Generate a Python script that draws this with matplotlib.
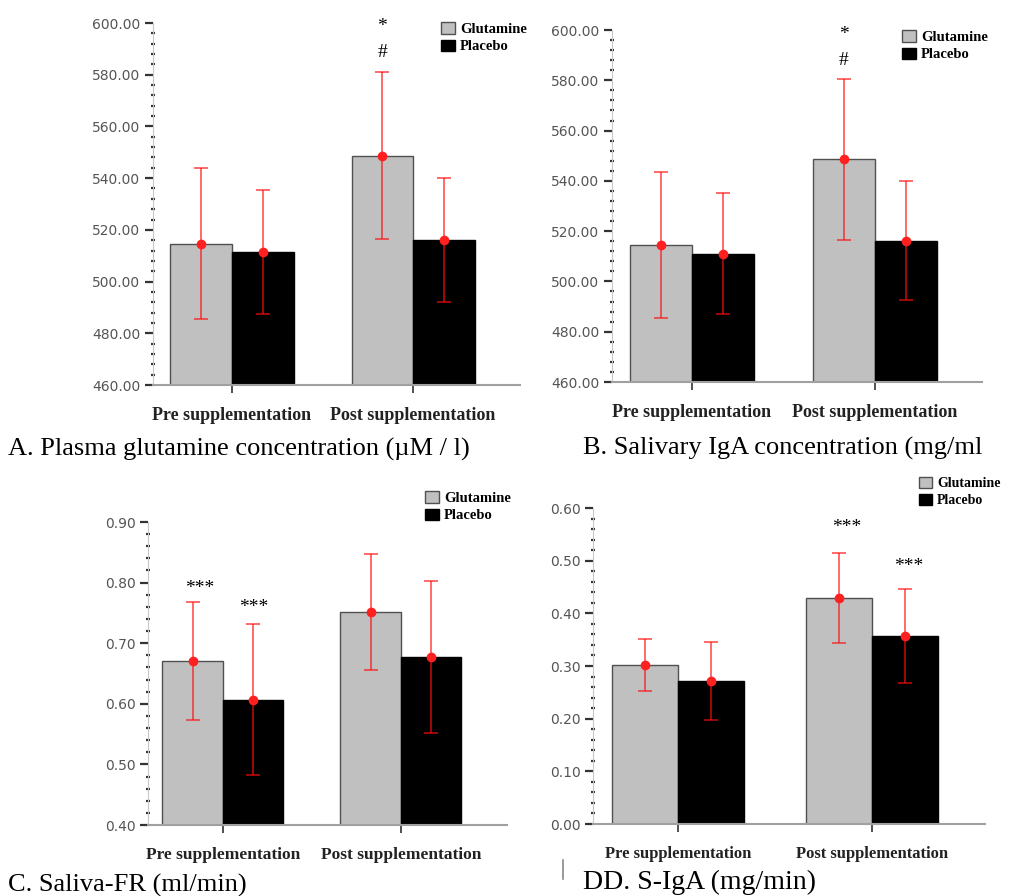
import matplotlib
matplotlib.use("Agg")
import matplotlib.pyplot as plt
from matplotlib.patches import Patch
from matplotlib.ticker import MultipleLocator, FormatStrFormatter

# ---------------- data ----------------
categories = ["Pre supplementation", "Post supplementation"]
series = ["Glutamine", "Placebo"]

# A. Plasma glutamine concentration
A_glu_mean = [514.7, 548.7]
A_glu_sd = [29.1, 32.4]
A_pla_mean = [511.3, 516.1]
A_pla_sd = [24.0, 24.0]

# B. Salivary IgA concentration
B_glu_mean = [514.4, 548.6]
B_glu_sd = [29.0, 32.1]
B_pla_mean = [511.0, 516.2]
B_pla_sd = [24.0, 23.6]

# C. Saliva flow rate
C_glu_mean = [0.671, 0.751]
C_glu_sd = [0.097, 0.096]
C_pla_mean = [0.607, 0.677]
C_pla_sd = [0.125, 0.126]

# D. S-IgA secretion rate
D_glu_mean = [0.302, 0.429]
D_glu_sd = [0.050, 0.085]
D_pla_mean = [0.272, 0.357]
D_pla_sd = [0.074, 0.090]

captions = ["A. Plasma glutamine concentration (\u00b5M / l)",
            "B. Salivary IgA concentration (mg/ml",
            "C. Saliva-FR (ml/min)",
            "DD. S-IgA (mg/min)"]

# ---------------- layout ----------------
W, H = 1011, 896
fig = plt.figure(figsize=(W / 100, H / 100), dpi=100)
fig.patch.set_facecolor("white")

SERIF = ["Liberation Serif", "DejaVu Serif"]


def px_axes(x0, y0, x1, y1):
    return fig.add_axes([x0 / W, 1 - y1 / H, (x1 - x0) / W, (y1 - y0) / H])


def draw_panel(rect, ylim, major, fmt, glu_m, glu_s, pla_m, pla_s, xlim,
               tick_fs, xlab_fs, leg_xy, leg_fs):
    ax = px_axes(*rect)
    w = 0.34
    xs = list(range(len(categories)))
    xg = [x - w / 2 for x in xs]
    xp = [x + w / 2 for x in xs]
    ax.bar(xg, glu_m, width=w, color="#c0c0c0", edgecolor="#505050",
           linewidth=1.0, zorder=2)
    ax.bar(xp, pla_m, width=w, color="black", edgecolor="black",
           linewidth=1.0, zorder=2)
    for xx, m, s in ((xg, glu_m, glu_s), (xp, pla_m, pla_s)):
        ax.errorbar(xx, m, yerr=s, fmt="none", ecolor=(1, 0.05, 0.05, 0.72),
                    elinewidth=1.2, capsize=4.8, capthick=1.2, zorder=3)
        ax.plot(xx, m, "o", color="#ff2020", markersize=6, zorder=4)
    ax.set_ylim(*ylim)
    ax.set_xlim(*xlim)
    ax.yaxis.set_major_locator(MultipleLocator(major))
    ax.yaxis.set_minor_locator(MultipleLocator(major / 5))
    ax.yaxis.set_major_formatter(FormatStrFormatter(fmt))
    for sp in ("top", "right"):
        ax.spines[sp].set_visible(False)
    ax.spines["left"].set_color("#c8c8c8")
    ax.spines["left"].set_linewidth(0.8)
    ax.spines["bottom"].set_color("#a0a0a0")
    ax.spines["bottom"].set_linewidth(1.5)
    ax.tick_params(axis="y", which="major", length=6, width=1.6,
                   color="#333333", labelcolor="#555555",
                   labelsize=tick_fs, pad=3)
    ax.tick_params(axis="y", which="minor", length=2.5, width=1.6,
                   color="#333333", direction="inout")
    ax.set_xticks(xs)
    ax.set_xticklabels(categories, fontfamily=SERIF, fontweight="bold",
                       fontsize=xlab_fs, color="#222222")
    ax.tick_params(axis="x", length=6, width=1.2, color="#333333", pad=10)
    handles = [Patch(facecolor="#c0c0c0", edgecolor="#505050"),
               Patch(facecolor="black", edgecolor="black")]
    ax.legend(handles, series, loc="upper left",
              bbox_to_anchor=(leg_xy[0] / W, 1 - leg_xy[1] / H),
              bbox_transform=fig.transFigure, frameon=False,
              borderpad=0, borderaxespad=0, handlelength=0.95,
              handleheight=0.85, handletextpad=0.35, labelspacing=0.25,
              prop={"family": SERIF, "weight": "bold", "size": leg_fs})
    return ax, xg, xp


axA, xgA, xpA = draw_panel((153, 23, 520, 385), (460, 600), 20, "%.2f",
                           A_glu_mean, A_glu_sd, A_pla_mean, A_pla_sd,
                           (-0.436, 1.59), 10, 13, (441, 22), 10.5)
axB, xgB, xpB = draw_panel((612, 30, 982, 382), (460, 600), 20, "%.2f",
                           B_glu_mean, B_glu_sd, B_pla_mean, B_pla_sd,
                           (-0.437, 1.585), 10, 13, (902, 30), 10.5)
axC, xgC, xpC = draw_panel((148, 522, 507, 825), (0.40, 0.90), 0.10, "%.2f",
                           C_glu_mean, C_glu_sd, C_pla_mean, C_pla_sd,
                           (-0.421, 1.596), 10, 12.5, (425, 491), 10.5)
axD, xgD, xpD = draw_panel((593, 508, 985, 824), (0.0, 0.60), 0.10, "%.2f",
                           D_glu_mean, D_glu_sd, D_pla_mean, D_pla_sd,
                           (-0.438, 1.582), 10, 12, (919, 477), 10)

# significance marks
ann = dict(fontfamily=SERIF, fontsize=14, ha="center", va="center",
           color="black", clip_on=False)
axA.text(xgA[1], 598.5, "*", **ann)
axA.text(xgA[1], 588.4, "#", **ann)
axB.text(xgB[1], 598.4, "*", **ann)
axB.text(xgB[1], 587.7, "#", **ann)
axC.text(xgC[0] + 0.04, 0.790, "***", **ann)
axC.text(xpC[0], 0.759, "***", **ann)
axD.text(xgD[1] + 0.04, 0.563, "***", **ann)
axD.text(xpD[1] + 0.02, 0.488, "***", **ann)

# captions
cap = dict(fontfamily=SERIF, fontsize=19, color="black", va="baseline")
fig.text(8 / W, 1 - 455.5 / H, captions[0], **cap)
fig.text(583 / W, 1 - 455 / H, captions[1], **cap)
fig.text(8 / W, 1 - 892 / H, captions[2], **cap)
fig.text(583 / W, 1 - 889 / H, captions[3],
         **{**cap, "fontsize": 20})
fig.add_artist(plt.Line2D([563 / W, 563 / W], [1 - 860 / H, 1 - 879 / H],
                          color="#888888", linewidth=1.2))

fig.savefig("out.png", dpi=100)
